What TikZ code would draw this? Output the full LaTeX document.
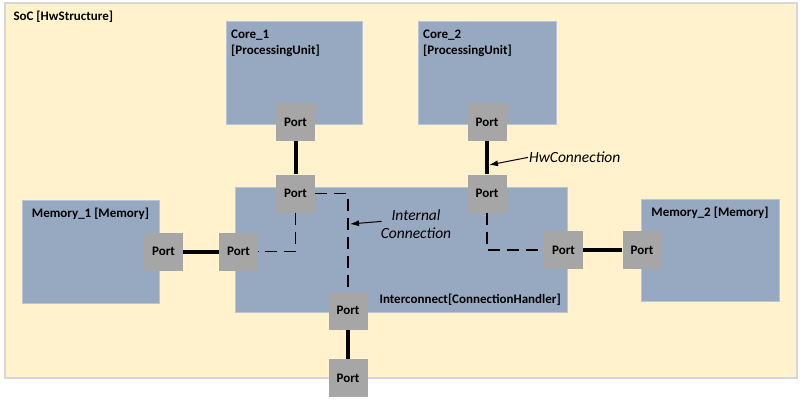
\documentclass[tikz,border=0pt]{standalone}
\usepackage{fontspec}
\setmainfont{Carlito}
\usetikzlibrary{arrows.meta,positioning,calc}
\definecolor{socfill}{RGB}{255,242,204}
\definecolor{socline}{RGB}{214,214,214}
\definecolor{blockfill}{RGB}{151,168,193}
\definecolor{blockline}{RGB}{186,196,212}
\definecolor{portfill}{RGB}{166,166,166}

\begin{document}
\begin{tikzpicture}[x=1pt,y=-1pt,>=Latex,
  font=\fontsize{13}{16}\selectfont\bfseries,
  soc/.style={draw=socline,fill=socfill,line width=1.2pt},
  block/.style={draw=blockline,fill=blockfill,line width=1pt},
  portbox/.style={fill=portfill,minimum width=39pt,minimum height=38pt,inner sep=0pt},
  hwlink/.style={line width=4pt},
  intlink/.style={line width=1.8pt,dash pattern=on 12pt off 7pt},
  note/.style={font=\fontsize{15.5}{18.5}\selectfont\itshape,inner sep=1pt},
  pointer/.style={-{Latex[length=9pt,width=6pt]},line width=1pt}]
\useasboundingbox[fill=white] (0,0) rectangle (803,405);
% containers
\node[soc,minimum width=792pt,minimum height=375pt] (soc) at (401,190.5) {};
\node[anchor=base west] (soclabel) at (10,20.7) {SoC [HwStructure]};
\node[block,minimum width=136pt,minimum height=103pt] (core1) at (294,72.5) {};
\node[block,minimum width=138pt,minimum height=103pt] (core2) at (487,72.5) {};
\node[block,minimum width=137pt,minimum height=103pt] (mem1) at (90.5,251.5) {};
\node[block,minimum width=138pt,minimum height=102pt] (mem2) at (710,250) {};
\node[block,minimum width=332pt,minimum height=125pt] (ic) at (401,249.5) {};
\node[anchor=north west,align=left,inner sep=0pt] (core1label) at (231,29.5) {Core\_1\\{}[ProcessingUnit]};
\node[anchor=north west,align=left,inner sep=0pt] (core2label) at (423,29.5) {Core\_2\\{}[ProcessingUnit]};
\node[anchor=base] (mem1label) at (90.5,217) {Memory\_1 [Memory]};
\node[anchor=base] (mem2label) at (710,216.5) {Memory\_2 [Memory]};
\node[anchor=base west] (iclabel) at (376,303.5) {Interconnect[ConnectionHandler]};
% ports
\foreach \n/\x/\y in {c1p/295.5/122,c2p/487/122,icA/295.5/193.5,icB/487/193.5,
  icL/238.5/251.5,icR/563.5/250,icD/348/310.5,ext/348/378,m1p/163.5/251.5,m2p/642/250}{
  \node[portbox] (\n) at (\x,\y) {Port};
}
% hardware connections
\draw[hwlink] (c1p) -- (icA);
\draw[hwlink] (c2p) -- (icB);
\draw[hwlink] (m1p) -- (icL);
\draw[hwlink] (icR) -- (m2p);
\draw[hwlink] (icD) -- (ext);
% internal connections
\draw[intlink] (icA) |- (icL);
\draw[intlink] (icA) -| (icD);
\draw[intlink] (icB) |- (icR);
% annotations
\node[note,anchor=north,align=center] (intnote) at (416,208.5) {Internal\\Connection};
\coordinate (intend) at (350,224);
\draw[pointer] ($(intnote.west)+(2,-3)$) -- (intend);
\node[note,anchor=base west] (hwnote) at (528,162.7) {HwConnection};
\coordinate (hwend) at (489,165);
\draw[pointer] (hwnote.west) -- (hwend);
\end{tikzpicture}
\end{document}
